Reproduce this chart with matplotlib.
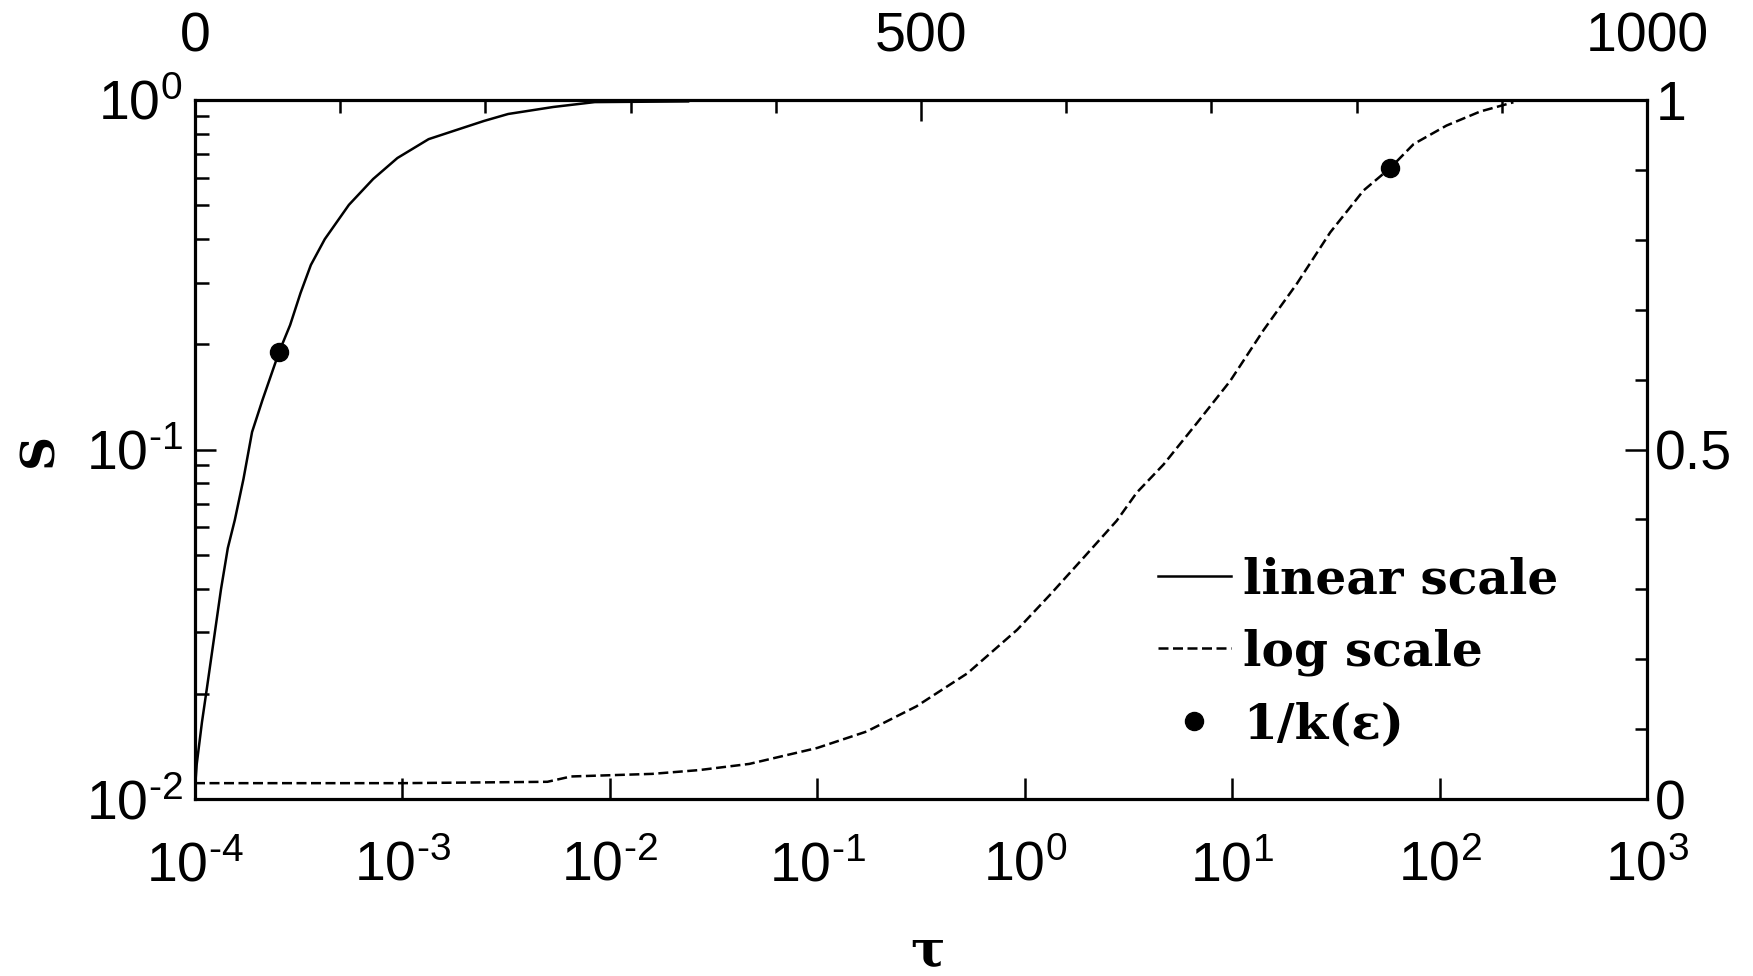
import matplotlib
matplotlib.use('Agg')
import matplotlib.pyplot as plt
from matplotlib.lines import Line2D
from matplotlib.ticker import FixedLocator, FixedFormatter, NullLocator, NullFormatter

# ---------------- data ----------------
# log-scale curve (bottom / left axes)
tau_log = [1e-4, 1e-3, 5e-3, 0.0065, 0.016, 0.027, 0.047, 0.10, 0.173, 0.30,
           0.53, 0.92, 1.33, 1.92, 2.78, 3.47, 4.67, 6.76, 9.78, 14.2,
           20.5, 29.7, 43.0, 58.0, 75.0, 108.0, 157.0, 227.0]
S_log = [0.0111, 0.0111, 0.0112, 0.0116, 0.0118, 0.0121, 0.0126, 0.0140, 0.0156, 0.0184,
         0.0229, 0.0305, 0.0385, 0.049, 0.0626, 0.0753, 0.0906, 0.119, 0.157, 0.220,
         0.298, 0.418, 0.551, 0.640, 0.748, 0.845, 0.927, 0.985]

# linear-scale curve (top / right axes)
tau_lin = [0, 1.2, 4.8, 8.3, 13.1, 17.9, 22.6, 27.4, 33.4, 39.3, 46.5, 58.0, 65.5,
           72.7, 79.8, 89.4, 106.0, 122.7, 139.4, 160.9, 179.9, 199.0, 215.7,
           246.7, 275.3, 339.6]
S_lin = [0.015, 0.05, 0.11, 0.16, 0.23, 0.30, 0.359, 0.399, 0.458, 0.525, 0.571, 0.64,
         0.678, 0.724, 0.764, 0.801, 0.850, 0.887, 0.917, 0.944, 0.957, 0.970, 0.980,
         0.990, 0.997, 0.998]

# 1/k(eps) marker
k_inv = 58.0
S_k = 0.64

# tick definitions
HY = '\u2010'  # short hyphen, as in the reference superscripts
xlog_ticks = [1e-4, 1e-3, 1e-2, 1e-1, 1e0, 1e1, 1e2, 1e3]
xlog_exps = [HY + '4', HY + '3', HY + '2', HY + '1', '0', '1', '2', '3']
xlog_labels = [r'$\mathregular{10^{%s}}$' % e for e in xlog_exps]
ylog_ticks = [1e-2, 1e-1, 1e0]
ylog_exps = [HY + '2', HY + '1', '0']
ylog_labels = [r'$\mathregular{10^{%s}}$' % e for e in ylog_exps]
ylog_minor = [m * 10.0 ** e for e in (-2, -1) for m in range(2, 10)]
xlin_ticks = [0, 500, 1000]
xlin_labels = ['0', '500', '1000']
xlin_minor = [100, 200, 300, 400, 600, 700, 800, 900]
ylin_ticks = [0, 0.5, 1]
ylin_labels = ['0', '0.5', '1']
ylin_minor = [0.1, 0.2, 0.3, 0.4, 0.6, 0.7, 0.8, 0.9]

legend_labels = ['linear scale', 'log scale', '1/k(ε)']

# ---------------- style ----------------
plt.rcParams['font.family'] = ['Liberation Sans', 'DejaVu Sans']
plt.rcParams['mathtext.fontset'] = 'custom'
plt.rcParams['mathtext.rm'] = 'Liberation Sans'
plt.rcParams['mathtext.it'] = 'Liberation Sans:italic'
plt.rcParams['mathtext.bf'] = 'Liberation Sans:bold'
plt.rcParams['mathtext.fallback'] = 'cm'
plt.rcParams['axes.unicode_minus'] = False

W, H = 1753, 976
fig = plt.figure(figsize=(W / 100, H / 100), dpi=100)
fig.patch.set_facecolor('white')
rect = [195 / W, 1 - 799 / H, 1452 / W, 699 / H]

LW = 1.8
TICK_FS = 40

# log axes (bottom/left)
ax = fig.add_axes(rect)
ax.set_xscale('log')
ax.set_yscale('log')
ax.set_xlim(1e-4, 1e3)
ax.set_ylim(1e-2, 1)
for sp in ax.spines.values():
    sp.set_linewidth(2.3)
line_log, = ax.plot(tau_log, S_log, color='black', lw=LW, dashes=(4.0, 1.8))
ax.plot([k_inv], [S_k], 'o', color='black', ms=13)

ax.xaxis.set_major_locator(FixedLocator(xlog_ticks))
ax.xaxis.set_major_formatter(FixedFormatter(xlog_labels))
ax.xaxis.set_minor_locator(NullLocator())
ax.yaxis.set_major_locator(FixedLocator(ylog_ticks))
ax.yaxis.set_major_formatter(FixedFormatter(ylog_labels))
ax.yaxis.set_minor_locator(FixedLocator(ylog_minor))
ax.yaxis.set_minor_formatter(NullFormatter())
ax.tick_params(which='both', direction='in', top=False, right=False, width=1.8,
               labelsize=TICK_FS)
ax.tick_params(axis='x', which='major', length=15, pad=30)
ax.tick_params(axis='y', which='major', length=15, pad=9)
ax.tick_params(axis='y', which='minor', length=10)

# linear axes (top/right)
ax2 = fig.add_axes(rect, frameon=False)
ax2.set_xlim(0, 1000)
ax2.set_ylim(0, 1)
line_lin, = ax2.plot(tau_lin, S_lin, color='black', lw=LW, ls='-')
ax2.plot([k_inv], [S_k], 'o', color='black', ms=13)
ax2.xaxis.tick_top()
ax2.yaxis.tick_right()
ax2.xaxis.set_major_locator(FixedLocator(xlin_ticks))
ax2.xaxis.set_major_formatter(FixedFormatter(xlin_labels))
ax2.xaxis.set_minor_locator(FixedLocator(xlin_minor))
ax2.yaxis.set_major_locator(FixedLocator(ylin_ticks))
ax2.yaxis.set_major_formatter(FixedFormatter(ylin_labels))
ax2.yaxis.set_minor_locator(FixedLocator(ylin_minor))
ax2.tick_params(which='both', direction='in', width=1.8, labelsize=TICK_FS)
ax2.tick_params(axis='x', which='major', length=15, pad=26)
ax2.tick_params(axis='x', which='minor', length=9)
ax2.tick_params(axis='y', which='major', length=16, pad=6)
ax2.tick_params(axis='y', which='minor', length=9)

# legend
h_dot = Line2D([], [], ls='none', marker='o', color='black', ms=13)
leg = ax2.legend([line_lin, line_log, h_dot], legend_labels,
                 loc='upper left', bbox_to_anchor=(1158 / W, 1 - 556 / H),
                 bbox_transform=fig.transFigure, frameon=False,
                 borderpad=0, borderaxespad=0, handlelength=1.5,
                 handletextpad=0.25, labelspacing=0.52,
                 prop={'family': 'DejaVu Serif', 'weight': 'bold', 'size': 35})

# axis labels
fig.text(39 / W, 1 - 450 / H, 'S', rotation=90, family='DejaVu Serif',
         weight='bold', size=34, ha='center', va='center')
fig.text(928 / W, 1 - 966 / H, 'τ', family='DejaVu Serif', weight='bold',
         size=37, ha='center', va='baseline')

fig.savefig('out.png', dpi=100, facecolor='white')
